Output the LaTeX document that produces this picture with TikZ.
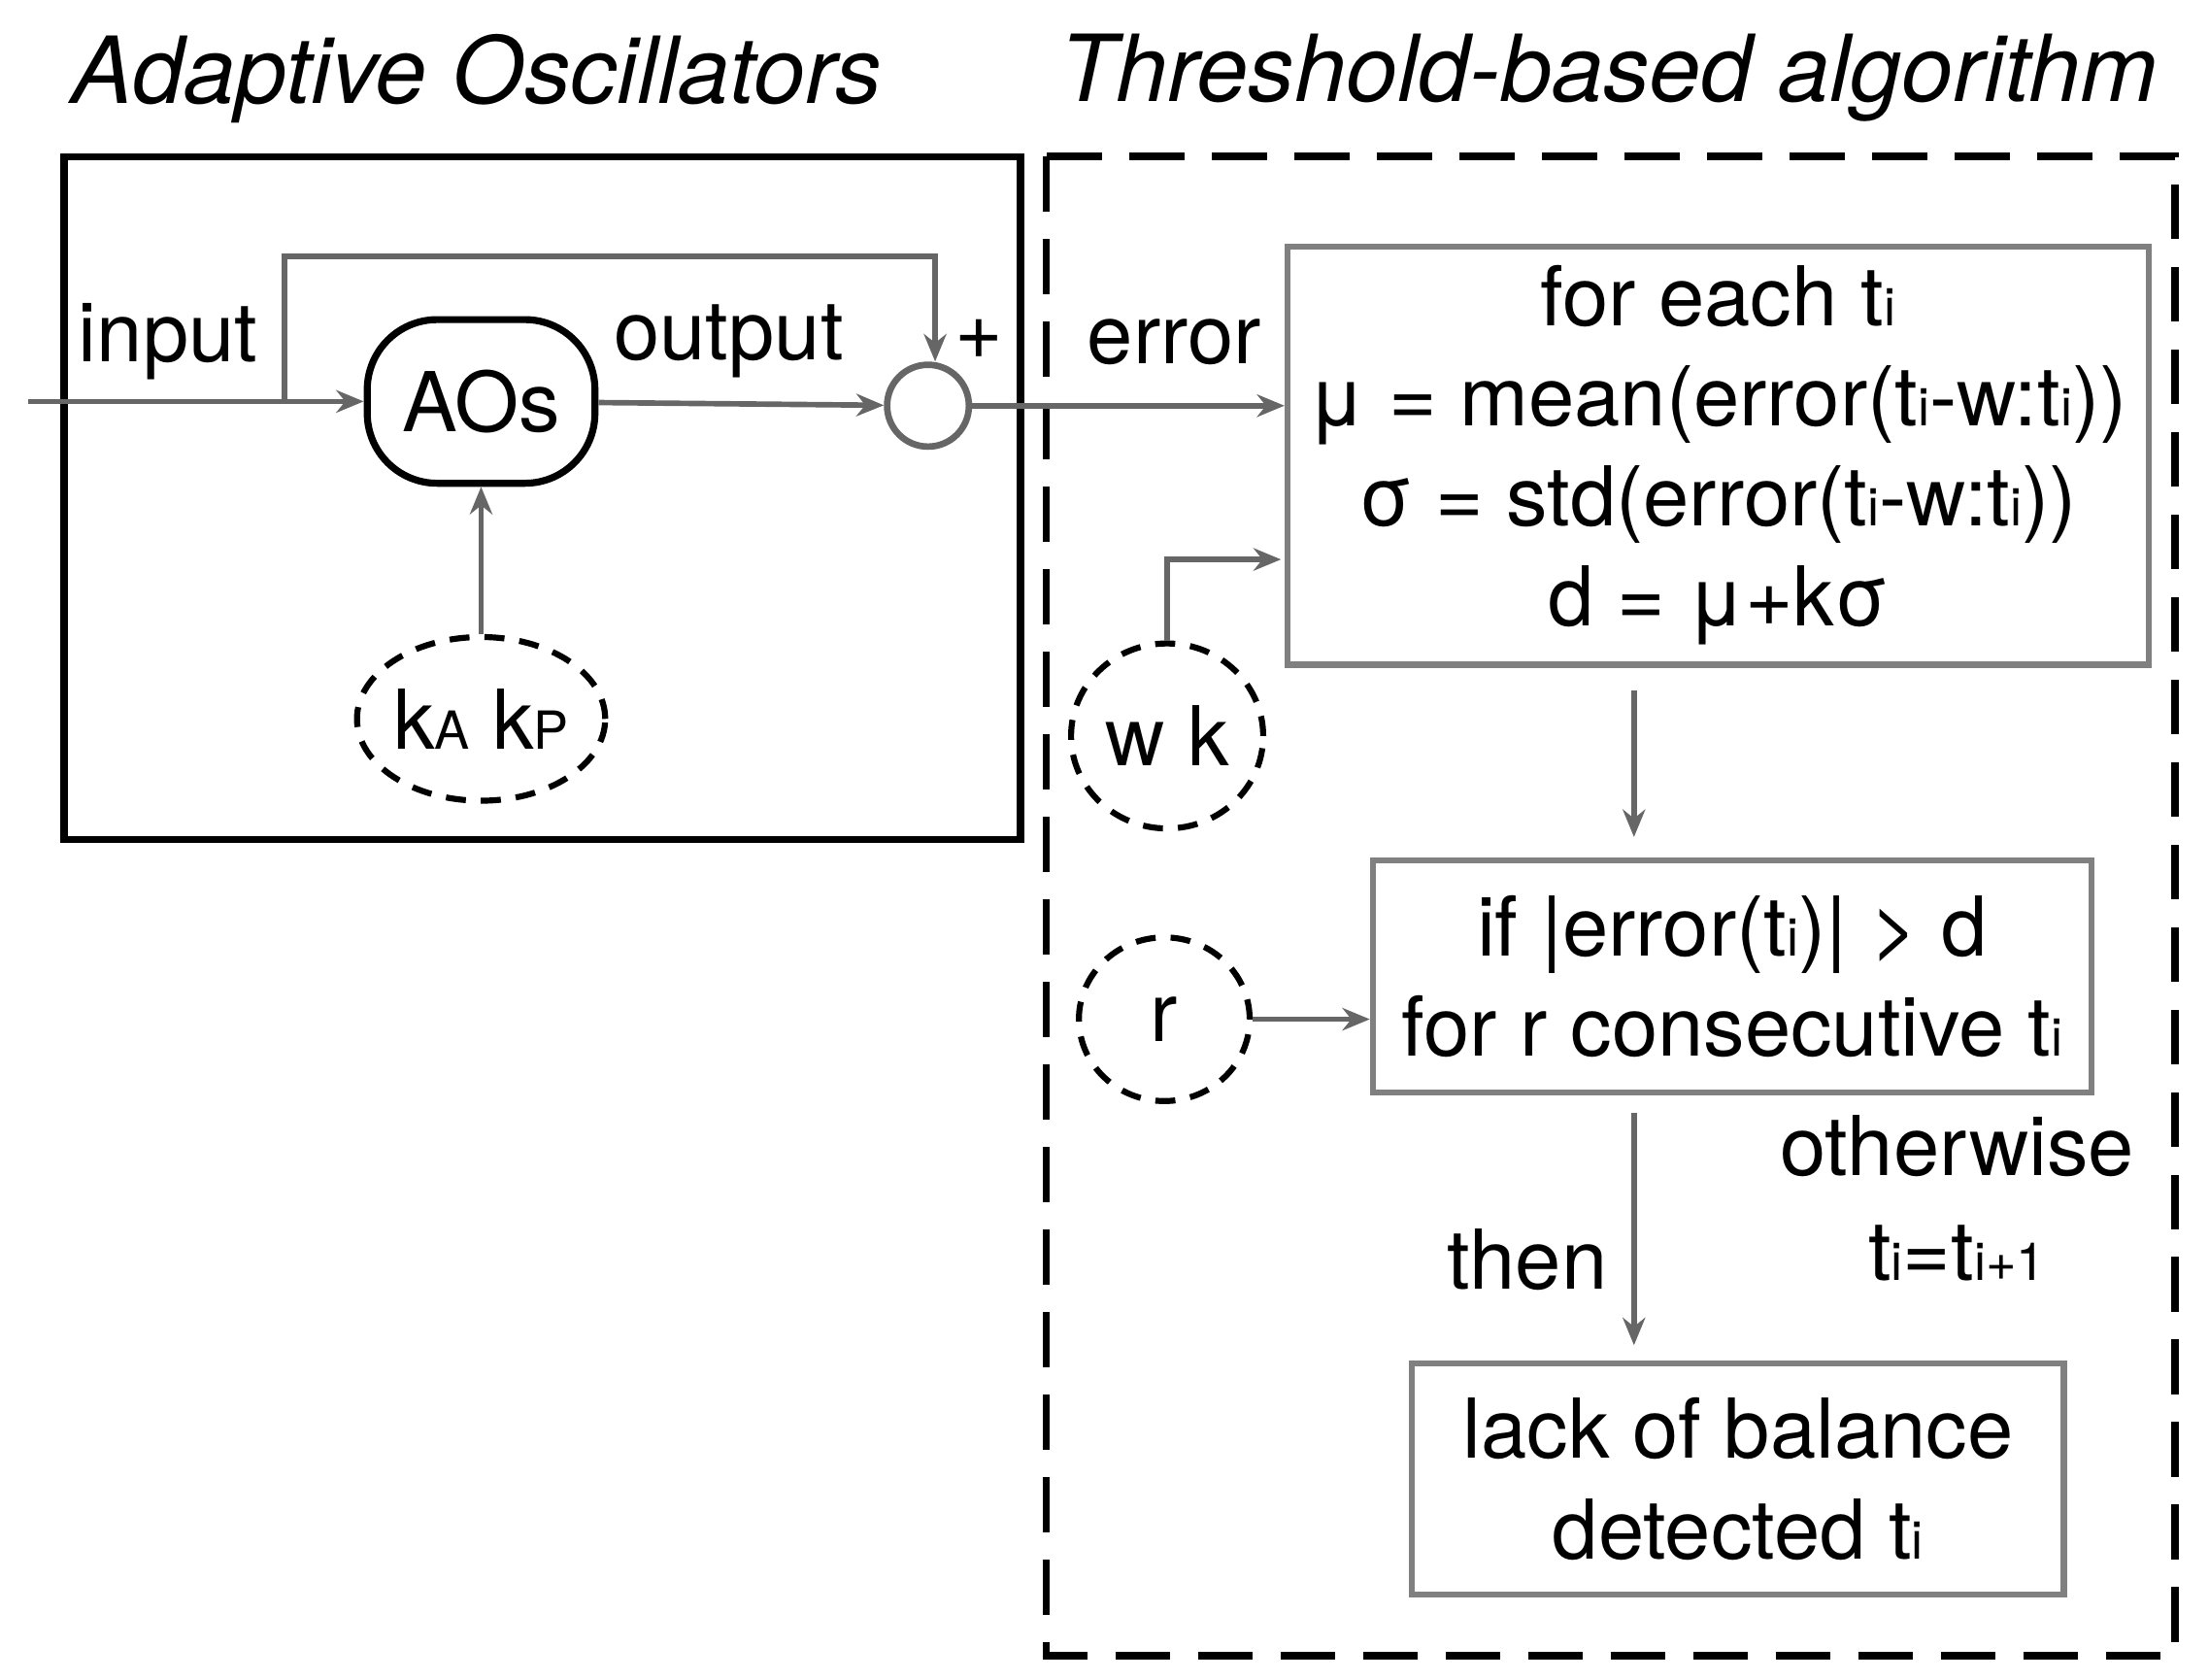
\documentclass[tikz,border=0pt]{standalone}
\usepackage{fontspec}
\setmainfont{TeX Gyre Heros}
\usetikzlibrary{arrows.meta,shapes.geometric}
\newcommand\sbx[1]{{\fontsize{21}{21}\selectfont #1}}
\begin{document}
\begin{tikzpicture}[x=0.02cm,y=-0.02cm,
  every node/.style={font=\fontsize{33}{40}\selectfont},
  gl/.style={draw=black!60,line width=2.2pt},
  arr/.style={gl,-{Stealth[length=11pt,width=9pt]}},
  pbox/.style={draw=black!50,line width=2.4pt,align=center,inner sep=0pt},
  dell/.style={draw,ellipse,line width=2.4pt,dash pattern=on 8pt off 6pt,inner sep=0pt}]
\useasboundingbox (0,0) rectangle (1552,1180);
\node[font=\fontsize{37}{44}\selectfont\itshape] (t1) at (335,55) {Adaptive Oscillators};
\node[font=\fontsize{37}{44}\selectfont\itshape] (t2) at (1130,55) {Threshold-based algorithm};
\draw[line width=2.8pt] (45,110) rectangle (717,590);
\draw[line width=3pt,dash pattern=on 22pt off 11pt] (735,110) rectangle (1528,1163);
\node[draw,line width=2.8pt,rounded corners=28pt,minimum width=3.2cm,minimum height=2.3cm] (ao) at (338,282) {AOs};
\node[dell,minimum width=3.3cm,minimum height=2.3cm] (kk) at (338,505) {k\sbx{A} k\sbx{P}};
\node[circle,gl,line width=2.6pt,minimum size=1.15cm,inner sep=0pt] (s) at (652,285) {};
\coordinate (in) at (20,282);
\coordinate (br) at (200,282);
\draw[gl] (in) -- (br);
\draw[arr] (br) -- (ao);
\draw[arr] (br) -- (200,180) -- (657,180) -- (s.north -| 657,0);
\node (plus) at (688,238) {+};
\node (il) at (118,240) {input};
\node (ol) at (512,240) {output};
\draw[arr] (ao) -- (s);
\draw[arr] (kk) -- (ao);
\node[pbox,minimum width=12.1cm,minimum height=5.88cm] (b1) at (1207,320) {for each t\sbx{i}\\[0pt] μ = mean(error(t\sbx{i}-w:t\sbx{i}))\\[0pt] σ = std(error(t\sbx{i}-w:t\sbx{i}))\\[0pt] d = μ+kσ};
\draw[arr] (s) -- (s -| b1.west);
\node (el) at (825,240) {error};
\node[dell,minimum width=2.7cm,minimum height=2.6cm] (wk) at (820,517) {w k};
\draw[arr] (wk.north) -- (820,393) -- (900,393);
\node[pbox,minimum width=10.1cm,minimum height=3.26cm] (b2) at (1217,686) {if |error(t\sbx{i})| > d\\[0pt] for r consecutive t\sbx{i}};
\draw[arr] (1148,485) -- (1148,588);
\node[dell,minimum width=2.4cm,minimum height=2.3cm] (r) at (818,716) {r};
\draw[arr] (r) -- (r -| b2.west);
\node[pbox,minimum width=9.16cm,minimum height=3.24cm] (b3) at (1221,1039) {lack of balance\\[0pt] detected t\sbx{i}};
\draw[arr] (1148,782) -- (1148,945);
\node (then) at (1073,885) {then};
\node (oth) at (1375,805) {otherwise};
\node (tt) at (1375,880) {t\sbx{i}=t\sbx{i+1}};
\end{tikzpicture}
\end{document}
